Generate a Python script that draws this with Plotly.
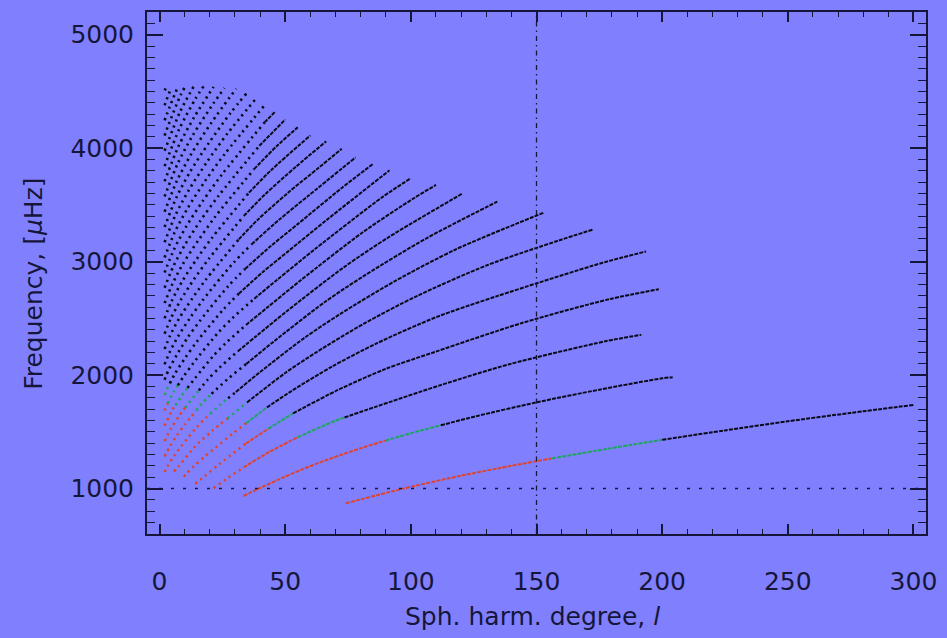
import plotly.graph_objects as go

# ---------------- data ----------------
# f-mode ridge
L_F = [74, 97, 120, 135, 156, 178, 200, 225, 250, 275, 300]
NU_F = [870, 1000, 1114, 1180, 1266, 1350, 1430, 1513, 1593, 1667, 1737]

L_P1 = [33.4, 39, 47, 55.8, 63, 71.6, 80, 89.8, 100, 111.9, 126, 150, 175, 200, 204.2]
NU_P1 = [935, 995, 1077, 1161, 1224, 1293, 1355, 1423, 1488, 1558, 1638, 1760, 1872, 1972, 1982]

L_P2 = [21.5, 26.7, 33.4, 43.5, 54.9, 69.9, 73.6, 85.3, 112.0, 139.2, 177.8, 191.7]
NU_P2 = [1003, 1087, 1186, 1321, 1452, 1598, 1627, 1716, 1913, 2096, 2300, 2355]

L_P3 = [14.2, 18.0, 23.8, 34.4, 43.3, 53.1, 70.8, 90.0, 109.8, 144.2, 179.1, 198.7]
NU_P3 = [1042, 1111, 1216, 1398, 1528, 1663, 1867, 2055, 2206, 2459, 2670, 2757]

L_P4 = [9.6, 10.8, 13.6, 17.8, 22.1, 29.2, 34.5, 42.7, 52.8, 68.7, 86.6, 110.1, 134.3, 176.3, 193.6]
NU_P4 = [1105, 1134, 1196, 1279, 1358, 1487, 1577, 1715, 1864, 2076, 2282, 2511, 2696, 2990, 3090]

L_P5 = [5.7, 7.5, 12.9, 16.1, 21.1, 27.0, 34.8, 50.0, 62.5, 81.3, 102.4, 130.3, 158.8, 172.3]
NU_P5 = [1150, 1193, 1340, 1413, 1512, 1618, 1759, 2019, 2203, 2453, 2697, 2968, 3186, 3282]

L_P6 = [2, 3.5, 6.0, 8.7, 15.0, 18.7, 20.1, 24.4, 27.3, 30.4, 40.0, 57.7, 72.1, 93.8, 118.3, 152.7]
NU_P6 = [1146, 1210, 1293, 1376, 1546, 1630, 1658, 1744, 1797, 1852, 2027, 2329, 2542, 2830, 3112, 3430]

L_P7 = [2, 4.1, 6.8, 9.9, 14.6, 17.0, 20.7, 27.7, 34.5, 45.5, 65.5, 81.8, 106.4, 134.4]
NU_P7 = [1284, 1371, 1466, 1560, 1688, 1753, 1836, 1977, 2099, 2297, 2640, 2881, 3208, 3529]

L_P8 = [2, 4.6, 7.7, 10.2, 15.6, 19.1, 23.8, 31.1, 38.6, 50.9, 73.3, 91.5, 120.5]
NU_P8 = [1419, 1532, 1638, 1715, 1865, 1959, 2065, 2209, 2346, 2568, 2950, 3220, 3600]

L_P9 = [2, 5.1, 6.3, 8.6, 11.1, 21.2, 26.4, 34.4, 42.7, 56.3, 81.0, 101.2, 110]
NU_P9 = [1554, 1694, 1734, 1810, 1888, 2165, 2283, 2442, 2593, 2838, 3261, 3559, 3676]

L_P10 = [2, 3.2, 5.7, 7.3, 9.4, 13.6, 23.2, 28.9, 37.7, 46.8, 61.7, 88.8, 100]
NU_P10 = [1689, 1751, 1855, 1910, 1983, 2110, 2371, 2500, 2674, 2840, 3108, 3571, 3735]

L_P11 = [2, 3.3, 4.1, 6.2, 10.3, 14.8, 25.3, 31.5, 41.0, 50.9, 67.1, 91.5]
NU_P11 = [1824, 1894, 1928, 2016, 2155, 2294, 2577, 2717, 2907, 3086, 3378, 3805]

L_P12 = [2, 3.6, 6.8, 11.1, 16.0, 27.3, 34.0, 44.4, 55.1, 72.5, 85]
NU_P12 = [1960, 2046, 2177, 2328, 2477, 2784, 2935, 3140, 3333, 3649, 3862]

L_P13 = [2, 3.9, 7.3, 12.0, 17.2, 29.4, 36.6, 47.7, 59.2, 78]
NU_P13 = [2095, 2197, 2339, 2500, 2661, 2990, 3152, 3372, 3580, 3919]

L_P14 = [2, 4.2, 7.8, 12.9, 18.5, 31.5, 39.1, 51.0, 63.3, 72.5]
NU_P14 = [2230, 2349, 2500, 2672, 2844, 3196, 3370, 3605, 3827, 3995]

L_P15 = [2, 4.5, 8.4, 13.7, 19.7, 33.5, 41.7, 54.3, 66.3]
NU_P15 = [2365, 2500, 2661, 2845, 3028, 3402, 3587, 3837, 4060]

L_P16 = [2, 4.8, 8.9, 14.6, 20.9, 35.6, 44.3, 60]
NU_P16 = [2500, 2652, 2823, 3017, 3211, 3608, 3804, 4112]

L_P17 = [2, 5.1, 9.4, 15.5, 22.1, 37.6, 46.8, 55]
NU_P17 = [2635, 2803, 2984, 3190, 3395, 3815, 4022, 4184]

L_P18 = [2, 5.4, 10.0, 16.3, 23.4, 39.7, 50]
NU_P18 = [2770, 2955, 3145, 3362, 3578, 4021, 4252]

L_P19 = [2, 5.7, 10.5, 17.2, 24.6, 41.8, 46]
NU_P19 = [2904, 3106, 3306, 3534, 3762, 4227, 4322]

L_P20 = [2, 6.0, 11.1, 18.0, 25.8, 42.3]
NU_P20 = [3037, 3258, 3468, 3707, 3945, 4392]

L_P21 = [2, 6.3, 11.6, 18.9, 27.0, 38.5]
NU_P21 = [3171, 3409, 3629, 3879, 4129, 4440]

L_P22 = [2, 6.6, 12.1, 19.8, 28.3, 34.5]
NU_P22 = [3306, 3561, 3790, 4052, 4312, 4480]

L_P23 = [2, 6.9, 12.7, 20.6, 30.5]
NU_P23 = [3440, 3712, 3952, 4224, 4525]

L_P24 = [2, 7.2, 13.2, 21.5, 25.8]
NU_P24 = [3574, 3864, 4113, 4397, 4530]

L_P25 = [2, 7.5, 13.8, 21.5]
NU_P25 = [3708, 4015, 4274, 4540]

L_P26 = [2, 7.8, 14.3, 17.5]
NU_P26 = [3842, 4167, 4436, 4545]

L_P27 = [2, 8.1, 13.6]
NU_P27 = [3977, 4318, 4545]

L_P28 = [2, 3.7, 8.4, 9.9]
NU_P28 = [4111, 4214, 4470, 4530]

L_P29 = [2, 3.9, 6.9]
NU_P29 = [4245, 4357, 4522]

L_P30 = [2, 4.4]
NU_P30 = [4379, 4520]

L_P31 = [2, 3.0]
NU_P31 = [4510, 4545]

RIDGE_L = [L_F, L_P1, L_P2, L_P3, L_P4, L_P5, L_P6, L_P7, L_P8, L_P9, L_P10,
           L_P11, L_P12, L_P13, L_P14, L_P15, L_P16, L_P17, L_P18, L_P19, L_P20,
           L_P21, L_P22, L_P23, L_P24, L_P25, L_P26, L_P27, L_P28, L_P29, L_P30, L_P31]
RIDGE_NU = [NU_F, NU_P1, NU_P2, NU_P3, NU_P4, NU_P5, NU_P6, NU_P7, NU_P8, NU_P9, NU_P10,
            NU_P11, NU_P12, NU_P13, NU_P14, NU_P15, NU_P16, NU_P17, NU_P18, NU_P19, NU_P20,
            NU_P21, NU_P22, NU_P23, NU_P24, NU_P25, NU_P26, NU_P27, NU_P28, NU_P29, NU_P30, NU_P31]
# degree where each ridge turns from red to green, and from green to black
RED_TO_GREEN = [156, 89.8, 54.9, 43.3, 34.5, 27.0, 20.1, 14.6, 10.2, 6.3, 3.2, 2] + [2] * 20
GREEN_TO_BLACK = [200, 111.9, 73.6, 53.1, 42.7, 34.8, 27.3, 20.7, 15.6, 11.1, 7.3, 4.1] + [2] * 20

X_TICKS = [0, 50, 100, 150, 200, 250, 300]
Y_TICKS = [1000, 2000, 3000, 4000, 5000]
H_LINE_NU = 1000
V_LINE_L = 150

# ---------------- styling ----------------
BG = "#8080ff"
INK = "#16163a"
RED = "#dc4430"
GREEN = "#1ea45e"
BLACK = "#0a0a18"
FONT = "DejaVu Sans"
DENSE_FROM = 30

fig = go.Figure()

for ls, nus, lrg, lgb in zip(RIDGE_L, RIDGE_NU, RED_TO_GREEN, GREEN_TO_BLACK):
    cuts = {ls[0], ls[-1]}
    for c in (lrg, lgb):
        if ls[0] < c < ls[-1]:
            cuts.add(c)
    dense_anchor = next((x for x in ls if x >= DENSE_FROM), None)
    if dense_anchor is not None and ls[0] < dense_anchor < ls[-1]:
        cuts.add(dense_anchor)
    cuts = sorted(cuts)
    for a, b in zip(cuts[:-1], cuts[1:]):
        idx = [i for i, x in enumerate(ls) if a - 1e-9 <= x <= b + 1e-9]
        if len(idx) < 2:
            continue
        mid = 0.5 * (a + b)
        color = RED if mid < lrg else (GREEN if mid < lgb else BLACK)
        dense = dense_anchor is not None and mid >= dense_anchor
        fig.add_trace(go.Scatter(
            x=[ls[i] for i in idx], y=[nus[i] for i in idx],
            mode="lines",
            line=dict(color=color, width=2.0 if dense else 2.6,
                      dash="4px,1.2px" if dense else "2.2px,4px",
                      shape="spline", smoothing=0.8),
            hoverinfo="skip", showlegend=False))

axis_common = dict(
    showgrid=False, zeroline=False, showline=True, linecolor=INK, linewidth=2,
    mirror="allticks", ticks="inside", tickcolor=INK, tickwidth=1.6,
    tickfont=dict(family=FONT, size=25, color=INK),
)
fig.update_xaxes(range=[-5, 305], tickvals=X_TICKS, ticklen=10,
                 minor=dict(dtick=10, ticklen=5, ticks="inside", tickcolor=INK, tickwidth=1.2),
                 ticklabelstandoff=24, **axis_common)
fig.update_yaxes(range=[600, 5200], tickvals=Y_TICKS, ticklen=16,
                 minor=dict(dtick=100, ticklen=8, ticks="inside", tickcolor=INK, tickwidth=1.2),
                 ticklabelstandoff=6, **axis_common)

fig.add_shape(type="line", xref="x", yref="y", x0=-5, x1=305, y0=H_LINE_NU, y1=H_LINE_NU,
              line=dict(color=INK, width=1.5, dash="3px,9px"), layer="above")
fig.add_shape(type="line", xref="x", yref="y", x0=V_LINE_L, x1=V_LINE_L, y0=600, y1=5200,
              line=dict(color=INK, width=1.3, dash="5px,4px,1.5px,4px"), layer="above")

fig.add_annotation(text="Sph. harm. degree, <i>l</i>", xref="paper", yref="paper",
                   x=0.4955, y=-0.158, xanchor="center", yanchor="middle", showarrow=False,
                   font=dict(family=FONT, size=25, color=INK))
fig.add_annotation(text="Frequency, [<i>μ</i>Hz]", xref="paper", yref="paper",
                   x=-0.1458, y=0.48, xanchor="center", yanchor="middle", showarrow=False,
                   textangle=-90, font=dict(family=FONT, size=25, color=INK))

fig.update_layout(width=947, height=638, paper_bgcolor=BG, plot_bgcolor=BG,
                  margin=dict(l=147, r=18, t=10, b=104), showlegend=False)

fig.write_html("out.html")
